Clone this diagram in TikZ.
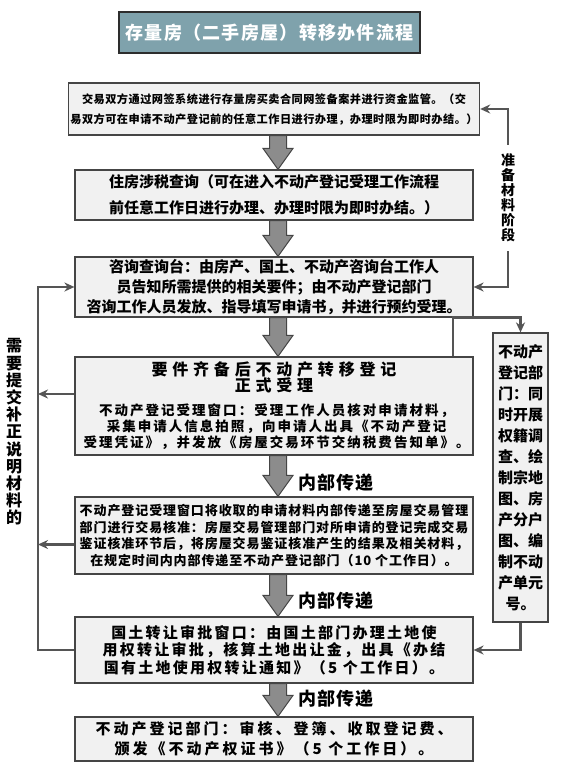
\documentclass[tikz,border=0pt]{standalone}
\usepackage{fontspec}
\setmainfont{Noto Sans CJK SC}
\newfontfamily\wideA{Noto Sans CJK SC}[LetterSpace=30]
\newfontfamily\wideB{Noto Sans CJK SC}[LetterSpace=15]
\newfontfamily\wideC{Noto Sans CJK SC}[LetterSpace=7]
\newfontfamily\wideD{Noto Sans CJK SC}[LetterSpace=20]
\newfontfamily\wideE{Noto Sans CJK SC}[LetterSpace=4]
\usetikzlibrary{arrows.meta,calc}
\definecolor{boxfill}{HTML}{F1F1F1}
\definecolor{boxline}{HTML}{454545}
\definecolor{titlefill}{HTML}{7FA2AC}
\definecolor{titleline}{HTML}{2D2D2D}
\definecolor{conncol}{HTML}{555555}
\definecolor{arrfill}{HTML}{8C8C8C}
\newcommand\fs[2]{\fontsize{#1}{#2}\selectfont}
\newcommand\blockarrow[2]{%
  \path[draw=boxline, fill=arrfill, line width=1pt]
    let \p1=($(#1.south)+(4,0)$), \p2=($(#2.north)+(4,0)$) in
    (\x1-8.5pt,\y1) -- (\x1+8.5pt,\y1) -- (\x1+8.5pt,\y2+21pt) -- (\x1+15pt,\y2+21pt)
    -- (\x1,\y2) -- (\x1-15pt,\y2+21pt) -- (\x1-8.5pt,\y2+21pt) -- cycle;}
\tikzset{
  box/.style={draw=boxline, fill=boxfill, line width=1.2pt, minimum width=398pt, align=center, inner sep=2pt},
  titlebox/.style={draw=titleline, fill=titlefill, line width=1.4pt, minimum width=301pt, minimum height=41pt, text=white, font=\wideC\fs{18}{22}\bfseries},
  conn/.style={draw=conncol, line width=2.2pt, -{Stealth[length=10pt,width=9pt]}},
  vlabel/.style={align=center, inner xsep=1pt},
  neibu/.style={font=\wideC\fs{18}{20}\bfseries, inner sep=0pt}
}
\begin{document}
\begin{tikzpicture}[x=1pt,y=-1pt]
\useasboundingbox (0,0) rectangle (566,771);
\fill[white] (0,0) rectangle (566,771);

\node[titlebox] (t) at (269.5,32.5) {存量房（二手房屋）转移办件流程};

\node[box, minimum height=52pt, font=\wideE\fs{11.2}{20}\bfseries] (b1) at (274,109)
  {交易双方通过网签系统进行存量房买卖合同网签备案并进行资金监管。（交\\
   易双方可在申请不动产登记前的任意工作日进行办理，办理时限为即时办结。）};

\node[box, minimum height=50pt, font=\fs{15}{26}\bfseries] (b2) at (274,195)
  {住房涉税查询（可在进入不动产登记受理工作流程\\
   前任意工作日进行办理、办理时限为即时办结。）};

\node[box, minimum height=60pt, font=\fs{15}{20}\bfseries] (b3) at (274,287)
  {咨询查询台：由房产、国土、不动产咨询台工作人\\
   员告知所需提供的相关要件；由不动产登记部门\\
   咨询工作人员发放、指导填写申请书，并进行预约受理。};

\node[box, minimum height=98pt, font=\fs{16}{16}\bfseries] (b4) at (274,406)
  {\wideA 要件齐备后不动产转移登记\\
   \wideA 正式受理\\[8pt]
   \wideB\fs{13.5}{15} 不动产登记受理窗口：受理工作人员核对申请材料，\\
   \wideB\fs{13.5}{15} 采集申请人信息拍照，向申请人出具《不动产登记\\
   \wideB\fs{13.5}{15} 受理凭证》，并发放《房屋交易环节交纳税费告知单》。};

\node[box, minimum height=77pt, font=\wideC\fs{13}{16.5}\bfseries] (b5) at (274,535.5)
  {不动产登记受理窗口将收取的申请材料内部传递至房屋交易管理\\
   部门进行交易核准：房屋交易管理部门对所申请的登记完成交易\\
   鉴证核准环节后，将房屋交易鉴证核准产生的结果及相关材料，\\
   在规定时间内内部传递至不动产登记部门（10 个工作日）。};

\node[box, minimum height=66pt, font=\wideB\fs{15}{17.5}\bfseries] (b6) at (274,650)
  {国土转让审批窗口：由国土部门办理土地使\\
   用权转让审批，核算土地出让金，出具《办结\\
   国有土地使用权转让通知》（5 个工作日）。};

\node[box, minimum height=44pt, font=\wideD\fs{15}{20}\bfseries] (b7) at (274,739)
  {不动产登记部门：审核、登簿、收取登记费、\\
   颁发《不动产权证书》（5 个工作日）。};

\node[box, minimum width=55pt, minimum height=289pt, font=\fs{15}{21}\bfseries, inner sep=1pt] (rb) at (520.5,477.5)
  {不动产\\登记部\\门：同\\时开展\\权籍调\\查、绘\\制宗地\\图、房\\产分户\\图、编\\制不动\\产单元\\号。};

\node[vlabel, inner ysep=9pt, font=\fs{14}{15}\bfseries] (prep) at (508,198)
  {准\\备\\材\\料\\阶\\段};

\node[vlabel, inner ysep=2pt, font=\fs{16}{17.2}\bfseries] (need) at (14,432)
  {需\\要\\提\\交\\补\\正\\说\\明\\材\\料\\的};

\blockarrow{b1}{b2}
\blockarrow{b2}{b3}
\blockarrow{b3}{b4}
\blockarrow{b4}{b5}
\blockarrow{b5}{b6}
\blockarrow{b6}{b7}

\node[neibu] (n1) at (336,483) {内部传递};
\node[neibu] (n2) at (336,601) {内部传递};
\node[neibu] (n3) at (336,699) {内部传递};

% preparation stage
\draw[conn] (prep.north) |- (b1.east);
\draw[conn] (prep.south) |- (b3.east);

% right side box
\draw[conn] ([xshift=-21pt]b4.north east) |- ([yshift=15pt]rb.north) -- (rb.north);
\draw[conn] (rb.south) |- (b6.east);

% left loop
\coordinate (ltop) at (38,287);
\draw[conn] (b6.west) -| (ltop) -- (b3.west);
\draw[conn] ([yshift=12pt]b4.west) -- ([yshift=12pt]b4.west -| ltop);
\draw[conn] ([yshift=-9pt]b5.west) -- ([yshift=-9pt]b5.west -| ltop);
\end{tikzpicture}
\end{document}
